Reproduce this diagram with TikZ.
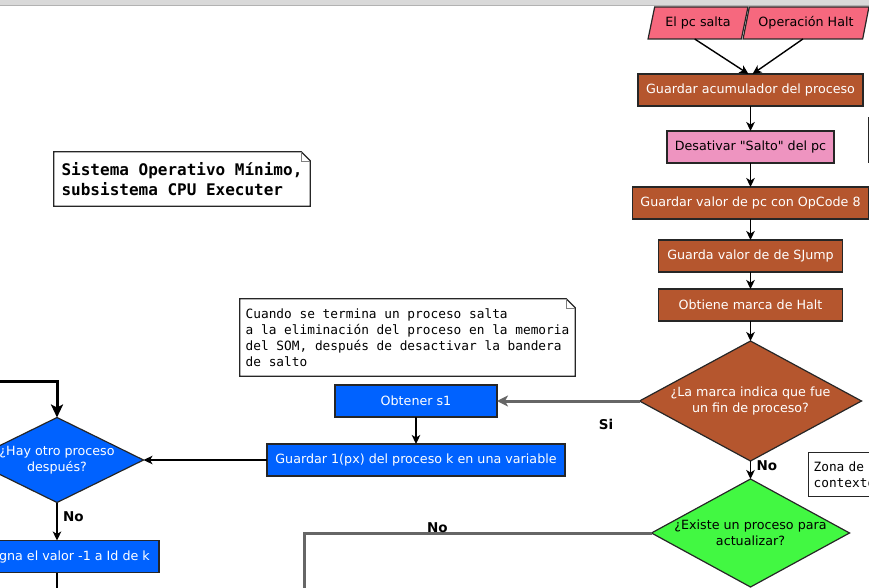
\documentclass[tikz,border=0pt]{standalone}
\usepackage{fontspec}
\setmainfont{DejaVu Sans}[Ligatures=TeXOff]
\setmonofont{DejaVu Sans Mono}
\usepackage{tikz}
\usetikzlibrary{shapes, positioning, calc, arrows.meta}
\definecolor{halbrown}{RGB}{181,86,46}
\definecolor{jumppink}{RGB}{238,148,192}
\definecolor{eventred}{RGB}{246,104,126}
\definecolor{procblue}{RGB}{0,98,255}
\definecolor{updgreen}{RGB}{66,248,66}
\definecolor{linegray}{RGB}{102,102,102}
\colorlet{barline}{gray!60}

\begin{document}
\begin{tikzpicture}[x=1pt, y=-1pt,
    process/.style={rectangle, draw=black!85, line width=1.2pt,
      minimum height=32pt, inner sep=3pt, outer sep=0pt, align=center,
      font=\fontsize{12.7}{16}\selectfont},
    event/.style={trapezium, trapezium left angle=72,
      trapezium right angle=108, trapezium stretches=true,
      draw=black!85, line width=1.2pt, fill=eventred,
      minimum height=32pt, inner sep=2pt, outer sep=0pt,
      font=\fontsize{12.7}{16}\selectfont},
    decision/.style={diamond, draw=black!85, line width=1.2pt,
      inner sep=0pt, outer sep=0pt},
    dtext/.style={align=center, font=\fontsize{12.7}{16}\selectfont},
    memo/.style={rectangle, inner sep=5pt, align=left,
      font=\ttfamily\fontsize{12.8}{16}\selectfont},
    edgelbl/.style={font=\bfseries\fontsize{13.5}{16}\selectfont},
    arr/.style={-{Stealth[length=9pt, width=8.5pt, inset=2.5pt]}, line width=1.4pt},
    grayarr/.style={-{Stealth[length=11pt, width=11pt, inset=3pt]},
      draw=linegray, line width=3pt},
    grayline/.style={draw=linegray, line width=3pt},
    heavyarr/.style={-{Stealth[length=13pt, width=12pt, inset=3pt]}, line width=3pt}]

  \useasboundingbox (0,0) rectangle (869,588);
  \clip (0,0) rectangle (869,588);

  % WINDOW BAR

  \fill[gray!30] (0,0) rectangle (869,5);
  \draw[barline] (0,5) -- (869,5);

  % EVENTS

  \node[event, minimum width=100pt] (pcsalta) at (698,23) {El pc salta};
  \node[event, minimum width=126pt] (opchalt) at (806,23) {Operación Halt};

  % SAVE CONTEXT

  \node[process, fill=halbrown, text=white, minimum width=225pt]
    (guardacum) at (750.5,90) {Guardar acumulador del proceso};
  \node[process, fill=jumppink, minimum width=167pt,
    below=25pt of guardacum] (desalto) {Desativar "Salto" del pc};
  \node[process, fill=halbrown, text=white, minimum width=236pt,
    below=24pt of desalto] (guardpc) {Guardar valor de pc con OpCode 8};
  \node[process, fill=halbrown, text=white, minimum width=184pt,
    below=21pt of guardpc] (sjump) {Guarda valor de de SJump};
  \node[process, fill=halbrown, text=white, minimum width=184pt,
    below=17pt of sjump] (marcahalt) {Obtiene marca de Halt};

  % DECISIONS

  \node[decision, fill=halbrown, minimum width=222pt, minimum height=120pt,
    below=20pt of marcahalt,
    label={[dtext, text=white]center:{¿La marca indica que fue\\un fin de proceso?}}]
    (finproc) {};
  \node[decision, fill=updgreen, minimum width=198pt, minimum height=108pt,
    below=18pt of finproc,
    label={[dtext]center:{¿Existe un proceso para\\actualizar?}}]
    (existe) {};

  % PROCESS END

  \node[process, fill=procblue, text=white, minimum width=162pt]
    (obtener) at (416,401) {Obtener s1};
  \node[process, fill=procblue, text=white, minimum width=298pt,
    below=27pt of obtener] (guarda1) {Guardar 1(px) del proceso k en una variable};
  \node[decision, fill=procblue, minimum width=173pt, minimum height=85pt,
    label={[dtext, text=white]center:{¿Hay otro proceso\\después?}}]
    (otro) at (57,460) {};
  \node[process, fill=procblue, text=white, minimum width=188pt]
    (asigna) at (65,556.5) {Asigna el valor -1 a Id de k};

  % NOTES

  \node[memo, minimum width=256pt, minimum height=54pt,
    font=\ttfamily\bfseries\fontsize{16}{20}\selectfont]
    (titlememo) at (182,179) {Sistema Operativo Mínimo,\\subsistema CPU Executer};
  \node[memo, minimum width=335pt, minimum height=77pt] (jumpmemo) at (407.5,337.5)
    {Cuando se termina un proceso salta\\a la eliminación del proceso en la memoria\\del SOM, después de desactivar la bandera\\de salto};
  \node[memo, draw=black!85, line width=1.2pt, anchor=north west, text width=110pt,
    minimum height=44pt] (zonamemo) at (808,452) {Zona de\\contexto};
  \node[draw=black!85, line width=1.2pt, anchor=north west, minimum width=80pt,
    minimum height=45pt] (sidememo) at (868,117) {};

  \foreach \m in {titlememo, jumpmemo} {
    \draw[line width=1.2pt, black!85] (\m.north west)
      -- ($(\m.north east)+(-9,0)$) -- ($(\m.north east)+(0,9)$)
      -- (\m.south east) -- (\m.south west) -- cycle;
    \draw[line width=0.5pt, gray] ($(\m.north east)+(-9,0)$)
      -- ($(\m.north east)+(-9,9)$) -- ($(\m.north east)+(0,9)$);
  }

  % CONNECTORS

  \draw[arr] (pcsalta.bottom side) -- ([xshift=-2pt]guardacum.north);
  \draw[arr] (opchalt.bottom side) -- ([xshift=2pt]guardacum.north);
  \foreach \a/\b in {guardacum/desalto, desalto/guardpc, guardpc/sjump,
    sjump/marcahalt, marcahalt/finproc}
    \draw[arr] (\a) -- (\b);
  \draw[arr] (finproc) -- node[edgelbl, right, pos=0.28, xshift=2pt] {No} (existe);
  \draw[grayarr] (finproc) -- node[edgelbl, pos=0.235, below=13pt] {Si} (obtener);
  \draw[arr] (obtener) -- (guarda1);
  \draw[arr] (guarda1) -- (otro);
  \draw[arr] (otro) -- node[edgelbl, right, pos=0.38, xshift=2pt] {No}
    (otro.south |- asigna.north);

  \coordinate (asignaexit) at (57,600);
  \draw[line width=1.4pt] (otro.south |- asigna.south) -- (asignaexit);
  \coordinate (loopentry) at (-10,381);
  \draw[heavyarr] (loopentry) -| (otro.north);
  \coordinate (noexit) at (304,600);
  \draw[grayline] (existe.west) -- node[edgelbl, pos=0.616, yshift=5pt] {No}
    (existe.west -| noexit) -- (noexit);

\end{tikzpicture}
\end{document}
